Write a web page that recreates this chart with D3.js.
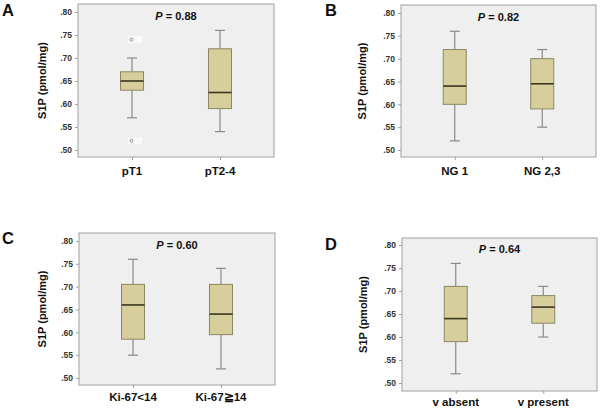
<!DOCTYPE html>
<html><head><meta charset="utf-8">
<script src="https://cdn.jsdelivr.net/npm/d3@7"></script>
<style>
html,body{margin:0;padding:0;background:#fff;}
svg{display:block;font-family:"Liberation Sans",Arial,sans-serif;}
</style></head>
<body>
<svg id="chart" width="600" height="411"></svg>
<script>
// ---- data ----
const yTicks = [0.50, 0.55, 0.60, 0.65, 0.70, 0.75, 0.80];
const yLabel = "S1P (pmol/mg)";

const letters = ["A", "B", "C", "D"];
const pValues = ["0.88", "0.82", "0.60", "0.64"];

const categoriesA = ["pT1", "pT2-4"];
const lowA  = [0.57, 0.54];
const q1A   = [0.63, 0.59];
const medA  = [0.65, 0.625];
const q3A   = [0.67, 0.72];
const highA = [0.70, 0.76];
const outliersA = [[0.74, 0.52], []];

const categoriesB = ["NG 1", "NG 2,3"];
const lowB  = [0.52, 0.55];
const q1B   = [0.60, 0.59];
const medB  = [0.64, 0.645];
const q3B   = [0.72, 0.70];
const highB = [0.76, 0.72];
const outliersB = [[], []];

const categoriesC = ["Ki-67<14", "Ki-67\u226714"];
const lowC  = [0.55, 0.52];
const q1C   = [0.585, 0.595];
const medC  = [0.66, 0.64];
const q3C   = [0.705, 0.705];
const highC = [0.76, 0.74];
const outliersC = [[], []];

const categoriesD = ["v absent", "v present"];
const lowD  = [0.52, 0.60];
const q1D   = [0.59, 0.63];
const medD  = [0.64, 0.665];
const q3D   = [0.71, 0.69];
const highD = [0.76, 0.71];
const outliersD = [[], []];

const panelData = [
  {cats: categoriesA, low: lowA, q1: q1A, med: medA, q3: q3A, high: highA, out: outliersA},
  {cats: categoriesB, low: lowB, q1: q1B, med: medB, q3: q3B, high: highB, out: outliersB},
  {cats: categoriesC, low: lowC, q1: q1C, med: medC, q3: q3C, high: highC, out: outliersC},
  {cats: categoriesD, low: lowD, q1: q1D, med: medD, q3: q3D, high: highD, out: outliersD}
];

// ---- layout (pixels) ----
const layout = [
  {fx0: 78,  fx1: 274, fy0: 4,   fy1: 157, y80: 12,  y50: 150, lx: 2,   ly: 16,  labX: 42,  catY: 175},
  {fx0: 401, fx1: 596, fy0: 5,   fy1: 157, y80: 13,  y50: 150, lx: 325, ly: 16,  labX: 362, catY: 175},
  {fx0: 79,  fx1: 275, fy0: 233, fy1: 385, y80: 241, y50: 378, lx: 2,   ly: 244, labX: 42,  catY: 401},
  {fx0: 402, fx1: 597, fy0: 238, fy1: 391, y80: 245, y50: 383, lx: 325, ly: 250, labX: 363, catY: 406}
];

const svg = d3.select("#chart");
const boxFill = "#d6cf9c", boxStroke = "#8c8762", medColor = "#3a3520",
      whiskerColor = "#8a8a8a", frameColor = "#a0a0a0", plotBg = "#efefef";

panelData.forEach((pd, i) => {
  const L = layout[i];
  const g = svg.append("g");
  const y = d3.scaleLinear().domain([0.5, 0.8]).range([L.y50, L.y80]);
  const x = d3.scalePoint().domain(pd.cats).range([L.fx0, L.fx1]).padding(0.614);

  // plot background + frame
  g.append("rect").attr("x", L.fx0).attr("y", L.fy0)
    .attr("width", L.fx1 - L.fx0).attr("height", L.fy1 - L.fy0)
    .attr("fill", plotBg).attr("stroke", frameColor).attr("stroke-width", 1);

  // y axis
  const yAxis = d3.axisLeft(y).tickValues(yTicks)
    .tickFormat(d => d3.format(".2f")(d).replace(/^0/, ""))
    .tickSize(3).tickPadding(3);
  const ya = g.append("g").attr("transform", `translate(${L.fx0},0)`).call(yAxis);
  ya.select(".domain").remove();
  ya.selectAll("line").attr("stroke", frameColor);
  ya.selectAll("text").attr("font-size", 8.5).attr("font-weight", "bold")
    .attr("fill", "#333").attr("font-family", "'Liberation Sans',Arial,sans-serif");

  // x axis
  const xAxis = d3.axisBottom(x).tickSize(3).tickPadding(8);
  const xa = g.append("g").attr("transform", `translate(0,${L.fy1})`).call(xAxis);
  xa.select(".domain").remove();
  xa.selectAll("line").attr("stroke", frameColor);
  xa.selectAll("text").remove();
  g.selectAll(".catlab").data(pd.cats).enter().append("text")
    .attr("x", d => x(d)).attr("y", L.catY)
    .attr("text-anchor", "middle").attr("font-size", 11.5).attr("font-weight", "bold")
    .attr("fill", "#111").text(d => d);

  // y label
  g.append("text")
    .attr("transform", `translate(${L.labX + 4},${(L.fy0 + L.fy1) / 2}) rotate(-90)`)
    .attr("text-anchor", "middle").attr("font-size", 11).attr("font-weight", "bold")
    .attr("fill", "#111").text(yLabel);

  // panel letter
  g.append("text").attr("x", L.lx).attr("y", L.ly)
    .attr("font-size", 16.5).attr("font-weight", "bold").attr("fill", "#111")
    .text(letters[i]);

  // P value
  const pt = g.append("text").attr("x", (L.fx0 + L.fx1) / 2).attr("y", L.y80 + 8)
    .attr("text-anchor", "middle").attr("font-size", 11).attr("font-weight", "bold")
    .attr("fill", "#111");
  pt.append("tspan").attr("font-style", "italic").text("P");
  pt.append("tspan").text(" = " + pValues[i]);

  const bw = 23, cw = 10;
  pd.cats.forEach((c, j) => {
    const cx = x(c);
    // whiskers
    g.append("line").attr("x1", cx).attr("x2", cx)
      .attr("y1", y(pd.high[j])).attr("y2", y(pd.q3[j]))
      .attr("stroke", whiskerColor).attr("stroke-width", 1.2);
    g.append("line").attr("x1", cx).attr("x2", cx)
      .attr("y1", y(pd.q1[j])).attr("y2", y(pd.low[j]))
      .attr("stroke", whiskerColor).attr("stroke-width", 1.2);
    [pd.high[j], pd.low[j]].forEach(v => {
      g.append("line").attr("x1", cx - cw / 2).attr("x2", cx + cw / 2)
        .attr("y1", y(v)).attr("y2", y(v))
        .attr("stroke", whiskerColor).attr("stroke-width", 1.2);
    });
    // box
    g.append("rect").attr("x", cx - bw / 2).attr("y", y(pd.q3[j]))
      .attr("width", bw).attr("height", y(pd.q1[j]) - y(pd.q3[j]))
      .attr("fill", boxFill).attr("stroke", boxStroke).attr("stroke-width", 1);
    // median
    g.append("line").attr("x1", cx - bw / 2).attr("x2", cx + bw / 2)
      .attr("y1", y(pd.med[j])).attr("y2", y(pd.med[j]))
      .attr("stroke", medColor).attr("stroke-width", 1.6);
    // outliers
    pd.out[j].forEach(v => {
      g.append("rect").attr("x", cx - 4).attr("y", y(v) - 3.5)
        .attr("width", 14).attr("height", 7).attr("fill", "#f9f9f9");
      g.append("circle").attr("cx", cx - 0.5).attr("cy", y(v)).attr("r", 1.5)
        .attr("fill", "none").attr("stroke", "#777").attr("stroke-width", 0.8);
    });
  });
});
</script>
</body></html>
